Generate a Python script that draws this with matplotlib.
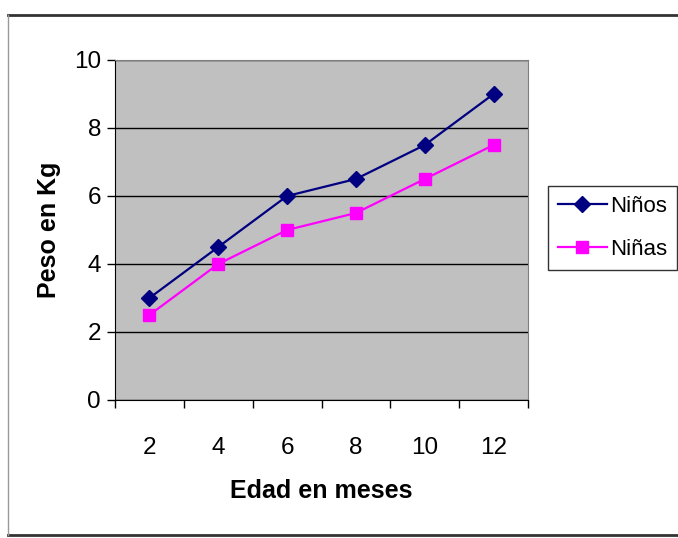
import matplotlib.pyplot as plt
import matplotlib.lines as mlines
import numpy as np

meses = ['2', '4', '6', '8', '10', '12']
ninos = [3, 4.5, 6, 6.5, 7.5, 9]
ninas = [2.5, 4, 5, 5.5, 6.5, 7.5]

plt.rcParams['font.family'] = ['Liberation Sans', 'DejaVu Sans']

W, H = 678, 538
fig = plt.figure(figsize=(W / 100, H / 100), dpi=100)
ax = fig.add_axes([115 / W, 1 - 400 / H, 413 / W, 340 / H])
ax.set_facecolor('#C0C0C0')

x = np.arange(len(meses))
ax.plot(x, ninos, '-D', color='#000080', linewidth=1.6, markersize=8, label='Niños', zorder=3)
ax.plot(x, ninas, '-s', color='#FF00FF', linewidth=1.6, markersize=8, label='Niñas', zorder=3)

ax.set_xlim(-0.5, len(meses) - 0.5)
ax.set_ylim(0, 10)
ax.set_yticks(np.arange(0, 11, 2))
ax.yaxis.grid(True, color='black', linewidth=1.0)
ax.set_axisbelow(True)

ax.set_xticks(x)
ax.set_xticklabels(meses)
ax.set_xticks(np.arange(-0.5, len(meses), 1), minor=True)
ax.tick_params(axis='x', which='major', length=0, pad=27, labelsize=17.5)
ax.tick_params(axis='x', which='minor', length=6, width=1, direction='out')
ax.tick_params(axis='y', length=6, width=1, pad=4, labelsize=17.5)

for s in ['top', 'right']:
    ax.spines[s].set_color('#808080')
for s in ['left', 'bottom']:
    ax.spines[s].set_color('black')

ax.set_xlabel('Edad en meses', fontsize=18, fontweight='bold', labelpad=14)
ax.set_ylabel('Peso en Kg', fontsize=18, fontweight='bold', labelpad=9)

leg = fig.legend(loc='center left', bbox_to_anchor=(548 / W, 1 - 228 / H),
                 fontsize=16, frameon=True, fancybox=False, handlelength=2.2,
                 handletextpad=0.15, borderpad=0.45, labelspacing=1.0, borderaxespad=0)
leg.get_frame().set_edgecolor('black')
leg.get_frame().set_linewidth(1.0)

# marco exterior del grafico
fig.add_artist(mlines.Line2D([8 / W, 1], [1 - 15 / H, 1 - 15 / H], color='#333333', linewidth=2))
fig.add_artist(mlines.Line2D([8 / W, 1], [1 - 535 / H, 1 - 535 / H], color='#333333', linewidth=2))
fig.add_artist(mlines.Line2D([8 / W, 8 / W], [1 - 535 / H, 1 - 15 / H], color='#999999', linewidth=1))

fig.savefig('out.png', dpi=100)
